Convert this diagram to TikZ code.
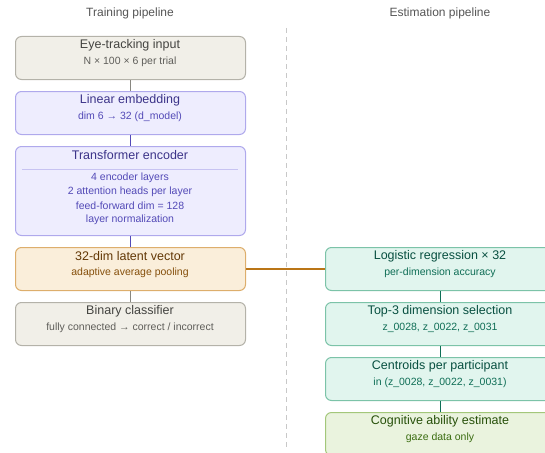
\documentclass[tikz,border=0pt]{standalone}
\usepackage{fontspec}
\setmainfont{Liberation Sans}
\definecolor{gfill}{HTML}{F1EFE8}\definecolor{gline}{HTML}{B4B2A9}\definecolor{gtit}{HTML}{444441}\definecolor{gsub}{HTML}{5F5E5A}\definecolor{gcon}{HTML}{888780}
\definecolor{pfill}{HTML}{EEEDFE}\definecolor{pline}{HTML}{AFA9EC}\definecolor{ptit}{HTML}{3C3489}\definecolor{psub}{HTML}{534AB7}\definecolor{pcon}{HTML}{534AB7}
\definecolor{afill}{HTML}{FAEEDA}\definecolor{aline}{HTML}{DDAE6C}\definecolor{atit}{HTML}{633806}\definecolor{asub}{HTML}{854F0B}\definecolor{acon}{HTML}{BA7517}
\definecolor{tfill}{HTML}{E1F5EE}\definecolor{tline}{HTML}{7CC3A8}\definecolor{ttit}{HTML}{085041}\definecolor{tsub}{HTML}{0F6E56}\definecolor{tcon}{HTML}{0F6E56}
\definecolor{efill}{HTML}{EAF3DE}\definecolor{eline}{HTML}{A3C77A}\definecolor{etit}{HTML}{27500A}\definecolor{esub}{HTML}{3B6D11}
\definecolor{hdr}{HTML}{555555}\definecolor{dashcol}{HTML}{C8C8C8}
\tikzset{
  box/.style={draw, rounded corners=6pt, line width=1pt, minimum width=230pt, anchor=north west, inner sep=0pt},
  gbox/.style={box, fill=gfill, draw=gline},
  pbox/.style={box, fill=pfill, draw=pline},
  abox/.style={box, fill=afill, draw=aline},
  tbox/.style={box, fill=tfill, draw=tline},
  ebox/.style={box, fill=efill, draw=eline},
  tit/.style={font=\fontsize{12.5}{14}\selectfont, inner sep=0pt},
  sub/.style={font=\fontsize{10.5}{12}\selectfont, inner sep=0pt},
  hdrs/.style={font=\fontsize{12}{14}\selectfont, text=hdr, inner sep=0pt},
  con/.style={line width=1.3pt}
}
\begin{document}
\begin{tikzpicture}[x=1pt,y=-1pt]
\useasboundingbox (0,0) rectangle (545,452);
\clip (0,0) rectangle (545,452);
\node[hdrs] (h1) at (130,13) {Training pipeline};
\node[hdrs] (h2) at (440,13) {Estimation pipeline};
\coordinate (d1) at (286,28);
\coordinate (d2) at (286,450);
\draw[dashcol, dash pattern=on 5pt off 4pt, line width=0.8pt] (d1) -- (d2);
% left boxes
\node[gbox, minimum height=43pt] (b1) at (15,36) {};
\node[pbox, minimum height=43pt] (b2) at (15,91) {};
\node[pbox, minimum height=89pt] (b3) at (15,146) {};
\node[abox, minimum height=43pt] (b4) at (15,247) {};
\node[gbox, minimum height=43pt] (b5) at (15,302) {};
% right boxes
\node[tbox, minimum height=43pt] (r1) at (325,247) {};
\node[tbox, minimum height=43pt] (r2) at (325,302) {};
\node[tbox, minimum height=43pt] (r3) at (325,357) {};
\node[ebox, minimum height=43pt] (r4) at (325,412) {};
% connectors
\draw[con, gcon] (b1.south) -- (b2.north);
\draw[con, pcon] (b2.south) -- (b3.north);
\draw[con, pcon] (b3.south) -- (b4.north);
\draw[con, gcon] (b4.south) -- (b5.north);
\draw[con, acon] (b4.east) -- (r1.west);
\draw[con, tcon] (r1.south) -- (r2.north);
\draw[con, tcon] (r2.south) -- (r3.north);
\draw[con, tcon] (r3.south) -- (r4.north);
% texts
\node[tit, text=gtit] (t1) at (130,45) {Eye-tracking input};
\node[sub, text=gsub] (s1) at (130,62) {N × 100 × 6 per trial};
\node[tit, text=ptit] (t2) at (130,100) {Linear embedding};
\node[sub, text=psub] (s2) at (130,117) {dim 6 → 32 (d\_model)};
\node[tit, text=ptit] (t3) at (130,155) {Transformer encoder};
\coordinate (sep1) at (22,169);
\coordinate (sep2) at (238,169);
\draw[pline!70, line width=0.6pt] (sep1) -- (sep2);
\node[sub, text=psub] (s3a) at (130,178) {4 encoder layers};
\node[sub, text=psub] (s3b) at (130,192) {2 attention heads per layer};
\node[sub, text=psub] (s3c) at (130,206) {feed-forward dim = 128};
\node[sub, text=psub] (s3d) at (130,220) {layer normalization};
\node[tit, text=atit] (t4) at (130,256) {32-dim latent vector};
\node[sub, text=asub] (s4) at (130,273) {adaptive average pooling};
\node[tit, text=gtit] (t5) at (130,311) {Binary classifier};
\node[sub, text=gsub] (s5) at (130,328) {fully connected → correct / incorrect};
\node[tit, text=ttit] (u1) at (440,256) {Logistic regression × 32};
\node[sub, text=tsub] (v1) at (440,273) {per-dimension accuracy};
\node[tit, text=ttit] (u2) at (440,311) {Top-3 dimension selection};
\node[sub, text=tsub] (v2) at (440,328) {z\_0028, z\_0022, z\_0031};
\node[tit, text=ttit] (u3) at (440,366) {Centroids per participant};
\node[sub, text=tsub] (v3) at (440,383) {in (z\_0028, z\_0022, z\_0031)};
\node[tit, text=etit] (u4) at (440,421) {Cognitive ability estimate};
\node[sub, text=esub] (v4) at (440,438) {gaze data only};
\end{tikzpicture}
\end{document}
